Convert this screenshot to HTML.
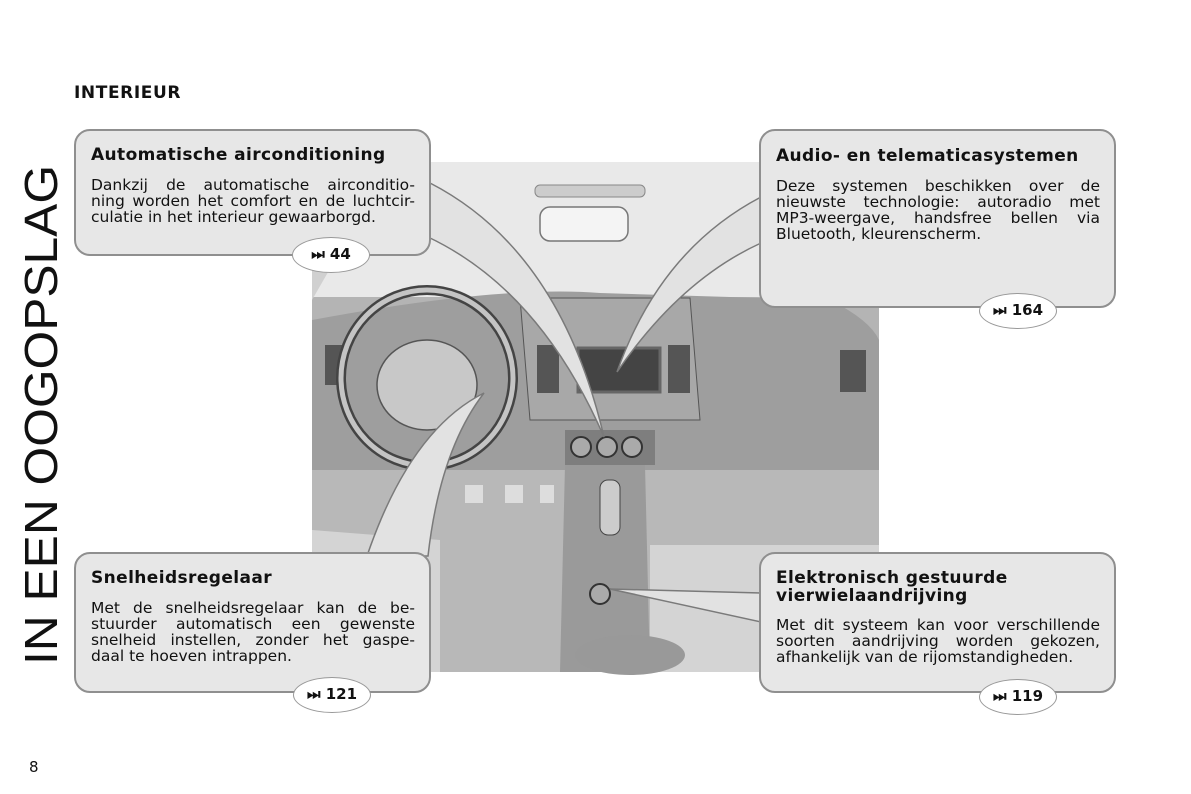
<!DOCTYPE html>
<html><head><meta charset="utf-8"><style>
*{margin:0;padding:0}
body{width:1191px;height:794px;background:#fff;position:relative;overflow:hidden;font-family:"DejaVu Sans","Liberation Sans",sans-serif;color:#111}
.box{position:absolute;background:#e7e7e7;border:2px solid #8f8f8f;border-radius:16px;box-sizing:border-box}
.box h3{position:absolute;left:15px;right:10px;font-size:17px;letter-spacing:0.4px;font-weight:bold;line-height:18px;white-space:nowrap}
.box p{position:absolute;left:15px;right:14px;font-size:15.5px;line-height:16px}
.box p span{display:block;text-align:justify;text-align-last:justify;white-space:nowrap}
.box p span.l{text-align-last:left}
.ref{position:absolute;width:78px;height:36px;border-radius:50%;background:#fff;border:1.5px solid #999;box-sizing:border-box;font-weight:bold;font-size:15px;text-align:center;line-height:33px}
.abs{position:absolute}
</style></head><body>
<div class="abs" style="left:74px;top:83px;font-size:17px;letter-spacing:0.6px;font-weight:bold">INTERIEUR</div>
<svg class="abs" style="left:0;top:0" width="1191" height="794">
<text x="0" y="0" transform="translate(57,665) rotate(-90)" font-family="Liberation Sans" font-size="46" textLength="500" lengthAdjust="spacingAndGlyphs" fill="#111">IN EEN OOGOPSLAG</text>
<g>
<rect x="312" y="162" width="567" height="510" fill="#b4b4b4"/>
<rect x="312" y="162" width="567" height="135" fill="#e9e9e9"/>
<path d="M312,162 L335,260 L312,300Z" fill="#d0d0d0"/>
<path d="M879,162 L855,260 L879,300Z" fill="#d0d0d0"/>
<rect x="540" y="207" width="88" height="34" rx="10" fill="#f4f4f4" stroke="#777" stroke-width="1.5"/>
<rect x="535" y="185" width="110" height="12" rx="5" fill="#ccc" stroke="#888"/>
<path d="M312,320 Q500,285 600,293 L830,300 Q870,320 879,340 L879,470 L312,470Z" fill="#9e9e9e"/>
<path d="M520,298 L690,298 L700,420 L530,420Z" fill="#a8a8a8" stroke="#555"/>
<rect x="578" y="348" width="82" height="44" fill="#444" stroke="#666" stroke-width="3"/>
<rect x="537" y="345" width="22" height="48" fill="#555"/><rect x="668" y="345" width="22" height="48" fill="#555"/>
<rect x="840" y="350" width="26" height="42" fill="#555"/><rect x="325" y="345" width="20" height="40" fill="#555"/>
<rect x="565" y="430" width="90" height="35" fill="#7e7e7e"/>
<circle cx="581" cy="447" r="10" fill="#aaa" stroke="#333" stroke-width="2"/>
<circle cx="607" cy="447" r="10" fill="#aaa" stroke="#333" stroke-width="2"/>
<circle cx="632" cy="447" r="10" fill="#aaa" stroke="#333" stroke-width="2"/>
<path d="M312,470 L879,470 L879,672 L312,672Z" fill="#b8b8b8"/>
<path d="M312,530 L440,540 L440,672 L312,672Z" fill="#d4d4d4"/>
<path d="M650,545 L879,545 L879,672 L650,672Z" fill="#d4d4d4"/>
<path d="M565,465 L645,465 L650,672 L560,672Z" fill="#9a9a9a"/>
<ellipse cx="630" cy="655" rx="55" ry="20" fill="#999"/>
<rect x="600" y="480" width="20" height="55" rx="8" fill="#ccc" stroke="#444"/>
<circle cx="600" cy="594" r="10" fill="#aaa" stroke="#333" stroke-width="2"/>
<rect x="465" y="485" width="18" height="18" fill="#ddd"/><rect x="505" y="485" width="18" height="18" fill="#ddd"/><rect x="540" y="485" width="14" height="18" fill="#ddd"/>
<ellipse cx="427" cy="378" rx="86" ry="88" fill="none" stroke="#444" stroke-width="10"/>
<ellipse cx="427" cy="378" rx="86" ry="88" fill="none" stroke="#c4c4c4" stroke-width="5"/>
<ellipse cx="427" cy="385" rx="50" ry="45" fill="#c8c8c8" stroke="#555" stroke-width="1.5"/>
</g>
<g fill="#e2e2e2" stroke="#7a7a7a" stroke-width="1.5">
<path d="M430,183 Q560,250 604,437 Q540,290 428,237Z"/>
<path d="M761,197 Q660,250 617,372 Q680,280 761,243Z"/>
<path d="M367,556 Q410,430 484,393 Q440,450 428,556Z"/>
<path d="M761,593 L610,589 L761,622Z"/>
</g>
</svg>
<div class="box" style="left:74px;top:129px;width:357px;height:127px"><h3 style="top:15px">Automatische airconditioning</h3><p style="top:46px"><span>Dankzij de automatische airconditio-</span><span>ning worden het comfort en de luchtcir-</span><span class="l">culatie in het interieur gewaarborgd.</span></p></div>
<div class="box" style="left:759px;top:129px;width:357px;height:179px"><h3 style="top:16px">Audio- en telematicasystemen</h3><p style="top:47px"><span>Deze systemen beschikken over de</span><span>nieuwste technologie: autoradio met</span><span>MP3-weergave, handsfree bellen via</span><span class="l">Bluetooth, kleurenscherm.</span></p></div>
<div class="box" style="left:74px;top:552px;width:357px;height:141px"><h3 style="top:15px">Snelheidsregelaar</h3><p style="top:46px"><span>Met de snelheidsregelaar kan de be-</span><span>stuurder automatisch een gewenste</span><span>snelheid instellen, zonder het gaspe-</span><span class="l">daal te hoeven intrappen.</span></p></div>
<div class="box" style="left:759px;top:552px;width:357px;height:141px"><h3 style="top:15px;line-height:18px">Elektronisch gestuurde<br>vierwielaandrijving</h3><p style="top:63px"><span>Met dit systeem kan voor verschillende</span><span>soorten aandrijving worden gekozen,</span><span class="l">afhankelijk van de rijomstandigheden.</span></p></div>
<div class="ref" style="left:292px;top:237px">⏭ 44</div>
<div class="ref" style="left:979px;top:293px">⏭ 164</div>
<div class="ref" style="left:293px;top:677px">⏭ 121</div>
<div class="ref" style="left:979px;top:679px">⏭ 119</div>
<div class="abs" style="left:29px;top:758px;font-size:15px">8</div>
</body></html>
